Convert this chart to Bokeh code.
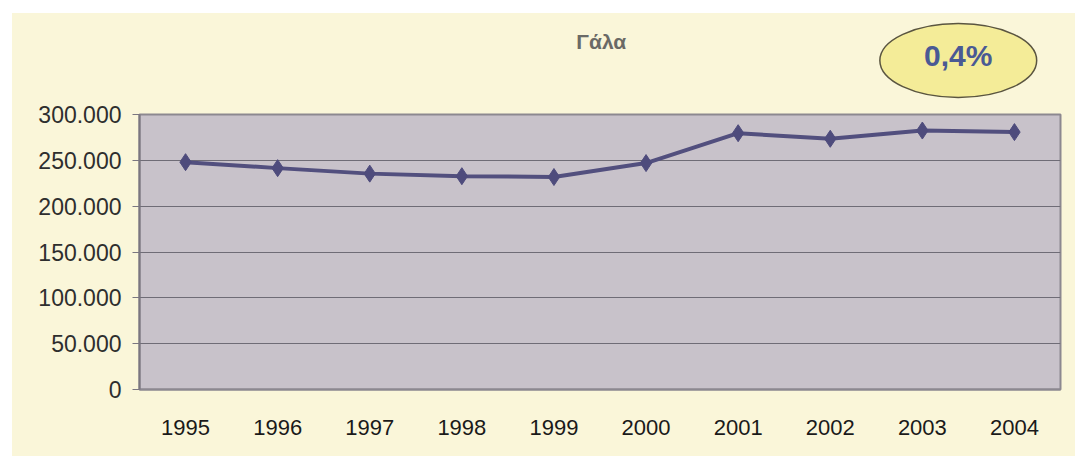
from bokeh.plotting import figure
from bokeh.layouts import column
from bokeh.models import Range1d, FactorRange, FixedTicker
from bokeh.core.properties import value
from bokeh.embed import file_html
from bokeh.resources import INLINE

# Data
years = ["1995", "1996", "1997", "1998", "1999", "2000", "2001", "2002", "2003", "2004"]
milk = [248000, 241500, 235500, 232700, 231800, 247000, 279600, 273500, 282500, 280800]
y_ticks = [0, 50000, 100000, 150000, 200000, 250000, 300000]
y_tick_labels = ["0", "50.000", "100.000", "150.000", "200.000", "250.000", "300.000"]
title_text = "Γάλα"
badge_text = "0,4%"

CREAM = "#faf6d9"
W = 1063
HEAD_H = 87
MAIN_H = 456 - 13 - HEAD_H

# Header strip (title + badge), pixel-based ranges
head = figure(width=W, height=HEAD_H, x_range=Range1d(0, W), y_range=Range1d(0, HEAD_H),
              x_axis_type=None, y_axis_type=None, output_backend="svg", toolbar_location=None,
              min_border=0, min_border_left=0, min_border_right=0, min_border_top=0, min_border_bottom=0)
head.background_fill_color = CREAM
head.border_fill_color = CREAM
head.outline_line_color = None
head.xgrid.grid_line_color = None
head.ygrid.grid_line_color = None

head.text(x=[533], y=[HEAD_H - 28], text=[title_text], text_font=value("Liberation Sans"),
          text_font_size="21px", text_font_style="bold", text_color="#6a6a66",
          text_align="center", text_baseline="middle")
head.ellipse(x=[945], y=[HEAD_H - 47], width=[181], height=[74],
             fill_color="#f4ec98", line_color="#5a5540", line_width=1.5)
head.text(x=[945], y=[HEAD_H - 42], text=[badge_text], text_font=value("Liberation Sans"),
          text_font_size="30px", text_font_style="bold", text_color="#4a5a94",
          text_align="center", text_baseline="middle")

# Main chart
p = figure(width=W, height=MAIN_H, x_range=FactorRange(*years, range_padding=0),
           y_range=Range1d(0, 300000), output_backend="svg", toolbar_location=None,
           min_border_left=127, min_border_right=15, min_border_top=14, min_border_bottom=67)

p.background_fill_color = "#c8c2ca"
p.border_fill_color = CREAM
p.outline_line_color = "#8c8890"
p.outline_line_width = 2

p.xgrid.grid_line_color = None
p.ygrid.grid_line_color = "#6f6c76"
p.ygrid.grid_line_width = 1.2

p.yaxis.ticker = FixedTicker(ticks=y_ticks)
p.yaxis.major_label_overrides = {t: s for t, s in zip(y_ticks, y_tick_labels)}
p.yaxis.major_label_text_font = "Liberation Sans"
p.yaxis.major_label_text_font_size = "23px"
p.yaxis.major_label_text_color = "#2e2e2e"
p.yaxis.axis_line_color = "#7a7680"
p.yaxis.axis_line_width = 2
p.yaxis.major_tick_line_color = "#7a7680"
p.yaxis.major_tick_out = 7
p.yaxis.major_tick_in = 0
p.yaxis.minor_tick_line_color = None
p.yaxis.major_label_standoff = 11

p.xaxis.major_label_text_font = "Liberation Sans"
p.xaxis.major_label_text_font_size = "22px"
p.xaxis.major_label_text_color = "#1a1a1a"
p.xaxis.axis_line_color = "#8c8890"
p.xaxis.axis_line_width = 2
p.xaxis.major_tick_line_color = None
p.xaxis.major_label_standoff = 24

p.line(years, milk, line_color="#524f7e", line_width=4)
p.scatter(years, milk, marker="diamond", size=17, fill_color="#4e4b7c", line_color="#4e4b7c")

layout = column(head, p, spacing=0, margin=(13, 0, 0, 12),
                styles={"background-color": CREAM})

open("out.html", "w").write(file_html(layout, INLINE))
